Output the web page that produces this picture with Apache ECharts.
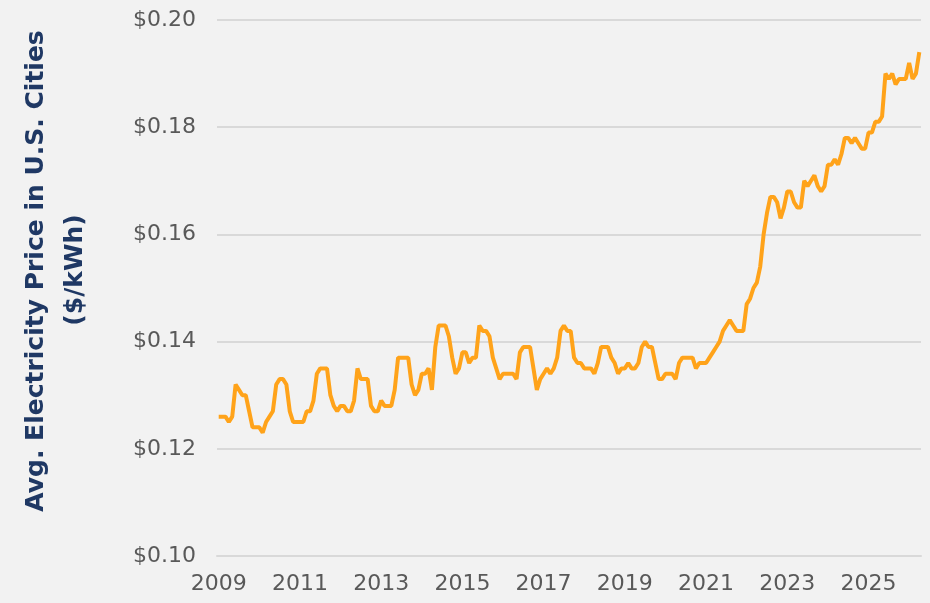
<!DOCTYPE html>
<html>
<head>
<meta charset="utf-8">
<script src="https://cdn.jsdelivr.net/npm/echarts@6/dist/echarts.min.js"></script>
<style>
  html, body { margin: 0; padding: 0; background: #f2f2f2; }
  #main { width: 930px; height: 603px; }
</style>
</head>
<body>
<div id="main"></div>
<script>
// monthly average price, Jan 2009 onward ($/kWh)
const startYear = 2009;
const prices = [
  0.126, 0.126, 0.126, 0.125, 0.126, 0.132, 0.131, 0.130, 0.130, 0.127, 0.124, 0.124,
  0.124, 0.123, 0.125, 0.126, 0.127, 0.132, 0.133, 0.133, 0.132, 0.127, 0.125, 0.125,
  0.125, 0.125, 0.127, 0.127, 0.129, 0.134, 0.135, 0.135, 0.135, 0.130, 0.128, 0.127,
  0.128, 0.128, 0.127, 0.127, 0.129, 0.135, 0.133, 0.133, 0.133, 0.128, 0.127, 0.127,
  0.129, 0.128, 0.128, 0.128, 0.131, 0.137, 0.137, 0.137, 0.137, 0.132, 0.130, 0.131,
  0.134, 0.134, 0.135, 0.131, 0.139, 0.143, 0.143, 0.143, 0.141, 0.137, 0.134, 0.135,
  0.138, 0.138, 0.136, 0.137, 0.137, 0.143, 0.142, 0.142, 0.141, 0.137, 0.135, 0.133,
  0.134, 0.134, 0.134, 0.134, 0.133, 0.138, 0.139, 0.139, 0.139, 0.135, 0.131, 0.133,
  0.134, 0.135, 0.134, 0.135, 0.137, 0.142, 0.143, 0.142, 0.142, 0.137, 0.136, 0.136,
  0.135, 0.135, 0.135, 0.134, 0.136, 0.139, 0.139, 0.139, 0.137, 0.136, 0.134, 0.135,
  0.135, 0.136, 0.135, 0.135, 0.136, 0.139, 0.140, 0.139, 0.139, 0.136, 0.133, 0.133,
  0.134, 0.134, 0.134, 0.133, 0.136, 0.137, 0.137, 0.137, 0.137, 0.135, 0.136, 0.136,
  0.136, 0.137, 0.138, 0.139, 0.140, 0.142, 0.143, 0.144, 0.143, 0.142, 0.142, 0.142,
  0.147, 0.148, 0.150, 0.151, 0.154, 0.160, 0.164, 0.167, 0.167, 0.166, 0.163, 0.165,
  0.168, 0.168, 0.166, 0.165, 0.165, 0.170, 0.169, 0.170, 0.171, 0.169, 0.168, 0.169,
  0.173, 0.173, 0.174, 0.173, 0.175, 0.178, 0.178, 0.177, 0.178, 0.177, 0.176, 0.176,
  0.179, 0.179, 0.181, 0.181, 0.182, 0.190, 0.189, 0.190, 0.188, 0.189, 0.189, 0.189,
  0.192, 0.189, 0.190, 0.194
];
const yearLabels = ['2009', '2011', '2013', '2015', '2017', '2019', '2021', '2023', '2025'];

const months = prices.map((p, i) =>
  (startYear + Math.floor(i / 12)) + '-' + String(i % 12 + 1).padStart(2, '0'));

function isLabelMonth(idx, value) {
  return value.endsWith('-01') && yearLabels.includes(value.slice(0, 4));
}

const chart = echarts.init(document.getElementById('main'));
chart.setOption({
  animation: false,
  backgroundColor: '#f2f2f2',
  grid: { left: 217, right: 9, top: 20, bottom: 47, containLabel: false },
  xAxis: {
    type: 'category',
    data: months,
    boundaryGap: true,
    axisLine: { lineStyle: { color: '#d9d9d9', width: 2 } },
    axisTick: { interval: isLabelMonth, length: 6, lineStyle: { color: '#d9d9d9', width: 2 } },
    axisLabel: {
      interval: isLabelMonth,
      formatter: v => v.slice(0, 4),
      color: '#595959',
      fontSize: 22,
      fontFamily: 'DejaVu Sans',
      margin: 17
    }
  },
  yAxis: {
    type: 'value',
    min: 0.1,
    max: 0.2,
    interval: 0.02,
    axisLine: { show: false },
    axisTick: { show: false },
    axisLabel: {
      formatter: v => '$' + v.toFixed(2),
      color: '#595959',
      fontSize: 22,
      fontFamily: 'DejaVu Sans',
      margin: 21
    },
    splitLine: { lineStyle: { color: '#d9d9d9', width: 2 } }
  },
  graphic: [
    {
      type: 'text', x: 36, y: 271, rotation: Math.PI / 2,
      style: {
        text: 'Avg. Electricity Price in U.S. Cities',
        fill: '#1f3864', font: 'bold 25px "DejaVu Sans"',
        align: 'center', verticalAlign: 'middle'
      }
    },
    {
      type: 'text', x: 75, y: 270, rotation: Math.PI / 2,
      style: {
        text: '($/kWh)',
        fill: '#1f3864', font: 'bold 25px "DejaVu Sans"',
        align: 'center', verticalAlign: 'middle'
      }
    }
  ],
  series: [{
    type: 'line',
    data: prices,
    showSymbol: false,
    lineStyle: { color: '#ffa31a', width: 4 },
    itemStyle: { color: '#ffa31a' }
  }]
});
</script>
</body>
</html>
